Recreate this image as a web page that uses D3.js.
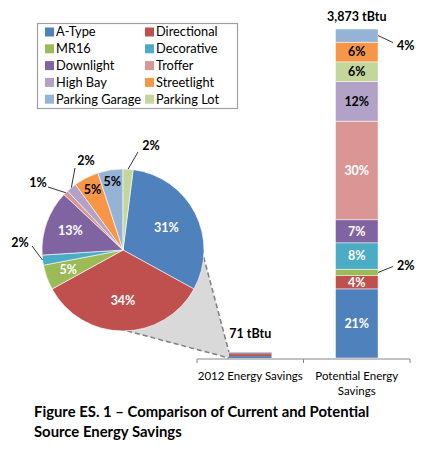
<!DOCTYPE html>
<html><head><meta charset="utf-8">
<script src="https://cdn.jsdelivr.net/npm/d3@7"></script>
<style>
body{margin:0;background:#fff;}
svg{display:block;font-family:Lato,"Open Sans",sans-serif;}
</style></head>
<body><svg id="c" width="440" height="460"></svg>
<script>
// ---- data ----
const categories = ["A-Type","Directional","MR16","Decorative","Downlight","Troffer","High Bay","Streetlight","Parking Garage","Parking Lot"];
const colors = ["#4F81BD","#C0504D","#9BBB59","#4BACC6","#8064A2","#D99694","#B3A2C7","#F79646","#95B3D7","#C3D69B"];
const share2012 = [31,34,5,2,13,1,2,5,5,2];          // % of 2012 savings
const sharePotential = [21,4,2,8,7,30,12,6,4,6];     // % of potential savings
const potentialStackOrder = ["A-Type","Directional","MR16","Decorative","Downlight","Troffer","High Bay","Parking Lot","Streetlight","Parking Garage"];
const barCategories = ["2012 Energy Savings","Potential Energy Savings"];
const totals = [71, 3873];                           // tBtu
const totalLabels = ["71 tBtu","3,873 tBtu"];
const titleLines = ["Figure ES. 1 \u2013 Comparison of Current and Potential","Source Energy Savings"];

// ---- layout ----
const svg = d3.select("#c");
const cx = 123, cy = 250, R = 81;
const x = d3.scaleBand().domain(barCategories).range([197,410]).paddingInner(0.6).paddingOuter(0.3);
const y = d3.scaleLinear().domain([0, d3.max(totals)]).range([358, 29]);
const colorOf = d3.scaleOrdinal().domain(categories).range(colors);
const bold = "700";

// connector (gray wedge + dashed lines)
const bx = x(barCategories[0]);
const ang = a => [cx + R*Math.sin(a*Math.PI/180), cy - R*Math.cos(a*Math.PI/180)];
const pTop = ang(95), pBot = ang(177);
const wedge = [pTop, [bx, y(totals[0])], [bx, y(0)], pBot, [cx,cy]];
svg.append("path").attr("d", d3.line()(wedge)+"Z").attr("fill","#D9D9D9");
svg.append("line").attr("x1",pTop[0]).attr("y1",pTop[1]).attr("x2",bx).attr("y2",y(totals[0]))
  .attr("stroke","#7F7F7F").attr("stroke-width",1.5).attr("stroke-dasharray","5,3");
svg.append("line").attr("x1",pBot[0]).attr("y1",pBot[1]).attr("x2",bx).attr("y2",y(0))
  .attr("stroke","#7F7F7F").attr("stroke-width",1.5).attr("stroke-dasharray","5,3");

// ---- pie ----
const total2012 = d3.sum(share2012);
const startA = share2012[share2012.length-1]/total2012*2*Math.PI;
const pie = d3.pie().sort(null).value(d=>d.v).startAngle(startA).endAngle(startA+2*Math.PI);
const pieData = pie(categories.map((c,i)=>({c, v:share2012[i]})));
const arc = d3.arc().innerRadius(0).outerRadius(R);
const g = svg.append("g").attr("transform",`translate(${cx},${cy})`);
g.selectAll("path.sl").data(pieData).join("path").attr("class","sl")
  .attr("d", arc).attr("fill", d=>colorOf(d.data.c)).attr("stroke","#fff").attr("stroke-width",0.6);

const darkCats = new Set(["A-Type","Directional","MR16","Decorative","Downlight","Troffer"]);
const insideR = {"A-Type":0.6,"Directional":0.63,"MR16":0.72,"Downlight":0.69,"Streetlight":0.83,"Parking Garage":0.85};
const outside = { // leader line elbow and label positions relative to centre (layout)
  "Parking Lot":{end:[15,-98], lab:[28,-104]},
  "High Bay":{end:[-48,-82], lab:[-37,-89]},
  "Troffer":{end:[-75,-63], lab:[-85,-67]},
  "Decorative":{end:[-91,-4], lab:[-103,-7]}
};
pieData.forEach(d=>{
  const c = d.data.c, mid = (d.startAngle+d.endAngle)/2;
  const lab = d.data.v + "%";
  if (insideR[c]) {
    const r = R*insideR[c];
    g.append("text").attr("x", r*Math.sin(mid)).attr("y", -r*Math.cos(mid)).attr("dy","0.35em")
      .attr("text-anchor","middle").attr("font-size",12.5).attr("font-weight",bold)
      .attr("fill", darkCats.has(c) ? "#fff" : "#000").text(lab);
  } else {
    const o = outside[c];
    const s = [R*Math.sin(mid), -R*Math.cos(mid)];
    g.append("polyline").attr("points",[s,o.end].map(p=>p.join(",")).join(" "))
      .attr("fill","none").attr("stroke","#000").attr("stroke-width",0.8);
    g.append("text").attr("x",o.lab[0]).attr("y",o.lab[1]).attr("dy","0.35em")
      .attr("text-anchor","middle").attr("font-size",12.5).attr("font-weight",bold).text(lab);
  }
});

// ---- bars ----
const bw = x.bandwidth();
let acc = 0;
categories.forEach((c,i)=>{
  const v = totals[0]*share2012[i]/total2012;
  svg.append("rect").attr("x",x(barCategories[0])).attr("width",bw)
    .attr("y",y(acc+v)).attr("height",y(acc)-y(acc+v)).attr("fill",colorOf(c));
  acc += v;
});
const totalPot = d3.sum(sharePotential);
acc = 0;
const px = x(barCategories[1]);
const segs = [];
potentialStackOrder.forEach(c=>{
  const i = categories.indexOf(c);
  const v = totals[1]*sharePotential[i]/totalPot;
  segs.push({c, p:sharePotential[i], y0:y(acc), y1:y(acc+v)});
  svg.append("rect").attr("x",px).attr("width",bw).attr("y",y(acc+v)).attr("height",y(acc)-y(acc+v))
    .attr("fill",colorOf(c)).attr("stroke","#fff").attr("stroke-width",0.5);
  acc += v;
});
const barOutside = {"MR16":{dx:15,dy:-6}, "Parking Garage":{dx:15,dy:7}};
segs.forEach(s=>{
  const mid = (s.y0+s.y1)/2;
  const lab = s.p + "%";
  if (barOutside[s.c]) {
    const o = barOutside[s.c];
    svg.append("line").attr("x1",px+bw).attr("y1",mid).attr("x2",px+bw+o.dx).attr("y2",mid+o.dy)
      .attr("stroke","#000").attr("stroke-width",0.8);
    svg.append("text").attr("x",px+bw+o.dx+4).attr("y",mid+o.dy+(o.dy<0?-1:3)).attr("dy","0.35em")
      .attr("font-size",12.5).attr("font-weight",bold).text(lab);
  } else {
    svg.append("text").attr("x",px+bw/2).attr("y",mid).attr("dy","0.35em").attr("text-anchor","middle")
      .attr("font-size",12.5).attr("font-weight",bold)
      .attr("fill", darkCats.has(s.c) ? "#fff" : "#000").text(lab);
  }
});
barCategories.forEach((b,i)=>{
  svg.append("text").attr("x",x(b)+bw/2).attr("y",y(totals[i])-(i===0?14:8)).attr("text-anchor","middle")
    .attr("font-size",12.5).attr("font-weight",bold).text(totalLabels[i]);
});

// ---- axis ----
const ax = svg.append("g").attr("transform",`translate(0,${y(0)+1})`)
  .call(d3.axisBottom(x).tickSize(0).tickFormat(""));
ax.select(".domain").attr("stroke","#868686").attr("d",`M${x.range()[0]},0H${x.range()[1]}`);
const bounds = [x.range()[0], x.range()[0]+x.step(), x.range()[1]];
bounds.forEach(b=>ax.append("line").attr("x1",b).attr("x2",b).attr("y1",0).attr("y2",4).attr("stroke","#868686"));
barCategories.forEach((b,i)=>{
  const cxl = x(b)+bw/2;
  const lines = i===0 ? [b] : ["Potential Energy","Savings"];
  lines.forEach((t,j)=>svg.append("text").attr("x",cxl).attr("y",380+j*15).attr("text-anchor","middle")
    .attr("font-size",11.5).text(t));
});

// ---- legend ----
const lg = svg.append("g");
lg.append("rect").attr("x",37.5).attr("y",23.5).attr("width",200).attr("height",85)
  .attr("fill","#fff").attr("stroke","#A0A0A0").attr("stroke-width",1.2);
categories.forEach((c,i)=>{
  const col = i%2, row = Math.floor(i/2);
  const lx = col===0 ? 45 : 145, ly = 32 + row*16.8;
  lg.append("rect").attr("x",lx).attr("y",ly-4.5).attr("width",9).attr("height",9).attr("fill",colorOf(c));
  lg.append("text").attr("x",lx+11).attr("y",ly).attr("dy","0.35em").attr("font-size",12.8).text(c);
});

// ---- title ----
titleLines.forEach((t,i)=>svg.append("text").attr("x",34).attr("y",417+i*20)
  .attr("font-size",14.85).attr("font-weight",bold).text(t));
</script></body></html>
